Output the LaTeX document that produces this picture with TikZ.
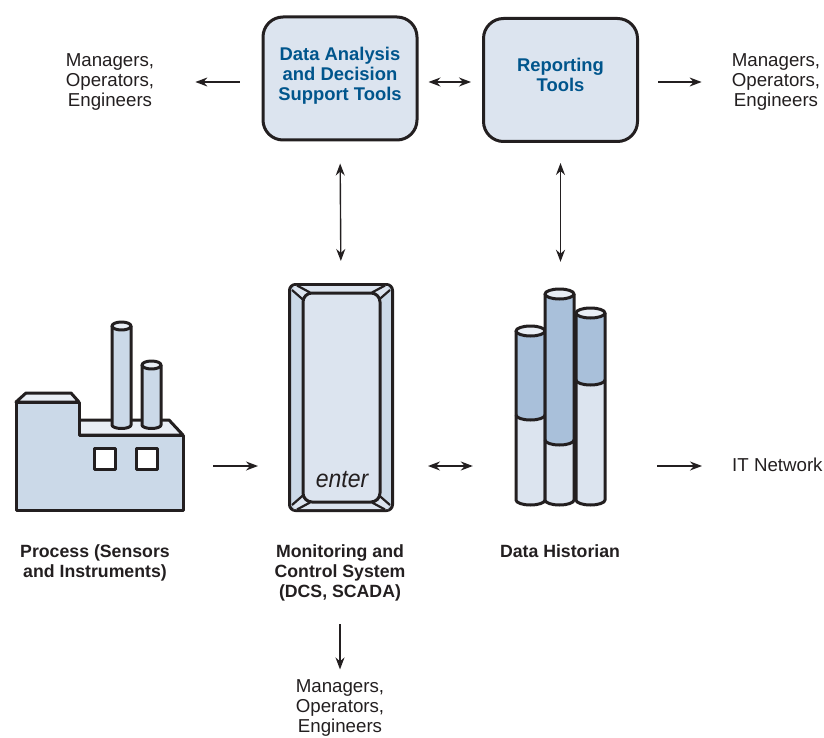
\documentclass[tikz,border=0pt]{standalone}
\usepackage{fontspec}
\setmainfont{Liberation Sans}
\usetikzlibrary{arrows.meta}
\definecolor{inkline}{HTML}{231F20}
\definecolor{boxblue}{HTML}{DCE4EF}
\definecolor{midblue}{HTML}{CBD9E8}
\definecolor{bandblue}{HTML}{A9C0DA}
\definecolor{capblue}{HTML}{E9EEF5}
\definecolor{titleblue}{HTML}{00558C}
\begin{document}
\begin{tikzpicture}[x=1pt,y=-1pt,
	toolbox/.style = {draw=inkline,fill=boxblue,line width=3pt,rounded corners=20pt,minimum width=154pt,minimum height=123pt},
	tooltext/.style = {align=center,inner sep=0pt,font=\fontsize{18.4}{20}\selectfont\bfseries,text=titleblue},
	people/.style = {align=center,inner sep=0pt,font=\fontsize{18.7}{20}\selectfont,text=inkline},
	caption/.style = {align=center,inner sep=0pt,font=\fontsize{17.7}{20}\selectfont\bfseries,text=inkline},
	icon/.style = {inner sep=0pt,minimum width=#1},
	link/.style = {draw=inkline,line width=1.4pt,-{Stealth[length=12pt,width=9pt]}},
	twoway/.style = {link,{Stealth[length=12pt,width=9pt]}-{Stealth[length=12pt,width=9pt]}},
	ink/.style = {draw=inkline,line width=3pt,line join=round}]
	\useasboundingbox (0,0) rectangle (824,738);
	\coordinate (toprow) at (0,82);
	\coordinate (midrow) at (0,466);

	% tools
	\node[toolbox] (analysis) at (340,78.5) {};
	\node[toolbox] (reporting) at (560.5,80) {};
	\node[tooltext] (analysistext) at (340,75.5) {Data Analysis\\and Decision\\Support Tools};
	\node[tooltext] (reportingtext) at (560.5,75) {Reporting\\Tools};

	% people
	\node[people] (mgrleft) at (110,82) {Managers,\\Operators,\\Engineers};
	\node[people] (mgrright) at (776,82) {Managers,\\Operators,\\Engineers};
	\node[people] (mgrbottom) at (340,708) {Managers,\\Operators,\\Engineers};
	\node[people,anchor=west] (itnet) at (732,465) {IT Network};

	% captions
	\node[caption] (process) at (95,563) {Process (Sensors\\and Instruments)};
	\node[caption] (control) at (340,573) {Monitoring and\\Control System\\(DCS, SCADA)};
	\node[caption] (historianlabel) at (560,551) {Data Historian};

	% factory
	\node[icon=167pt,minimum height=185pt] (factory) at (99.5,418) {};
	\draw[ink,fill=capblue] (16,402) -- (26,393) -- (71,393) -- (79,402) -- cycle;
	\draw[ink,fill=capblue] (79,420) -- (169,420) -- (183,435) -- (79,435) -- cycle;
	\foreach \cx/\ctop in {121.5/326,151.5/365}{
		\draw[ink,fill=midblue] (\cx-9.5,\ctop) -- (\cx-9.5,425) arc (180:0:9.5 and 3.5) -- (\cx+9.5,\ctop);
		\draw[ink,fill=capblue] (\cx,\ctop) ellipse (9.5 and 4);
	}
	\draw[ink,fill=midblue] (16,402) -- (79,402) -- (79,435) -- (183,435) -- (183,510) -- (16,510) -- cycle;
	\draw[ink,fill=white] (94.5,448) rectangle (115.5,469);
	\draw[ink,fill=white] (136,448) rectangle (157,469);

	% terminal
	\node[draw=inkline,fill=midblue,line width=3pt,rounded corners=6pt,minimum width=103pt,minimum height=226pt] (terminal) at (341,397.5) {};
	\fill[boxblue] (293,286) -- (389,286) -- (378,293) -- (305,293) -- cycle;
	\fill[boxblue] (293,509) -- (389,509) -- (378,502) -- (305,502) -- cycle;
	\foreach \sx/\sy in {-1/-1,1/-1,-1/1,1/1}{
		\fill[boxblue] (341+\sx*49,397.5+\sy*107.5) -- (341+\sx*44,397.5+\sy*112) -- (341+\sx*31,397.5+\sy*105) -- (341+\sx*37,397.5+\sy*97) -- cycle;
		\draw[draw=inkline,line width=2.2pt] (341+\sx*49,397.5+\sy*107.5) -- (341+\sx*37,397.5+\sy*97);
		\draw[draw=inkline,line width=2.2pt] (341+\sx*44,397.5+\sy*112) -- (341+\sx*31,397.5+\sy*105);
	}
	\node[draw=inkline,fill=boxblue,line width=3pt,rounded corners=9pt,minimum width=77pt,minimum height=209pt] (keycap) at (341.5,397.5) {};
	\node[inner sep=0pt,font=\fontsize{25}{25}\selectfont\itshape,text=inkline,xscale=0.92,transform shape] (enter) at (342,480) {enter};

	% historian
	\node[icon=89pt,minimum height=218pt] (historian) at (560.5,398) {};
	\foreach \cx/\ctop/\cband in {530.5/331/415,559.5/294/440,590.5/313/380}{
		\fill[boxblue] (\cx-14.5,\ctop) -- (\cx-14.5,500) arc (180:0:14.5 and 5) -- (\cx+14.5,\ctop) -- cycle;
		\fill[bandblue] (\cx-14.5,\ctop) -- (\cx-14.5,\cband) arc (180:0:14.5 and 5) -- (\cx+14.5,\ctop) -- cycle;
		\draw[ink] (\cx-14.5,\ctop) -- (\cx-14.5,500) arc (180:0:14.5 and 5) -- (\cx+14.5,\ctop);
		\draw[ink] (\cx-14.5,\cband) arc (180:0:14.5 and 5);
		\draw[ink,fill=capblue] (\cx,\ctop) ellipse (14.5 and 5);
	}

	% connectors
	\draw[link,shorten <=22pt,shorten >=41pt] (analysis.west |- toprow) -- (mgrleft.east |- toprow);
	\draw[twoway,shorten <=10pt,shorten >=11pt] (analysis.east |- toprow) -- (reporting.west |- toprow);
	\draw[link,shorten <=19pt,shorten >=30pt] (reporting.east |- toprow) -- (mgrright.west |- toprow);
	\draw[twoway,shorten <=22pt,shorten >=22pt] (analysis.south) -- (terminal.north);
	\draw[twoway,shorten <=20pt,shorten >=27pt] (reporting.south) -- (historian.north);
	\draw[link,shorten <=30pt,shorten >=30pt] (factory.east |- midrow) -- (terminal.west |- midrow);
	\draw[twoway,shorten <=34pt,shorten >=43pt] (terminal.east |- midrow) -- (historian.west |- midrow);
	\draw[link,shorten <=52pt,shorten >=30pt] (historian.east |- midrow) -- (itnet.west |- midrow);
	\draw[link,shorten <=23pt,shorten >=10pt] (control.south) -- (mgrbottom.north);
\end{tikzpicture}
\end{document}
